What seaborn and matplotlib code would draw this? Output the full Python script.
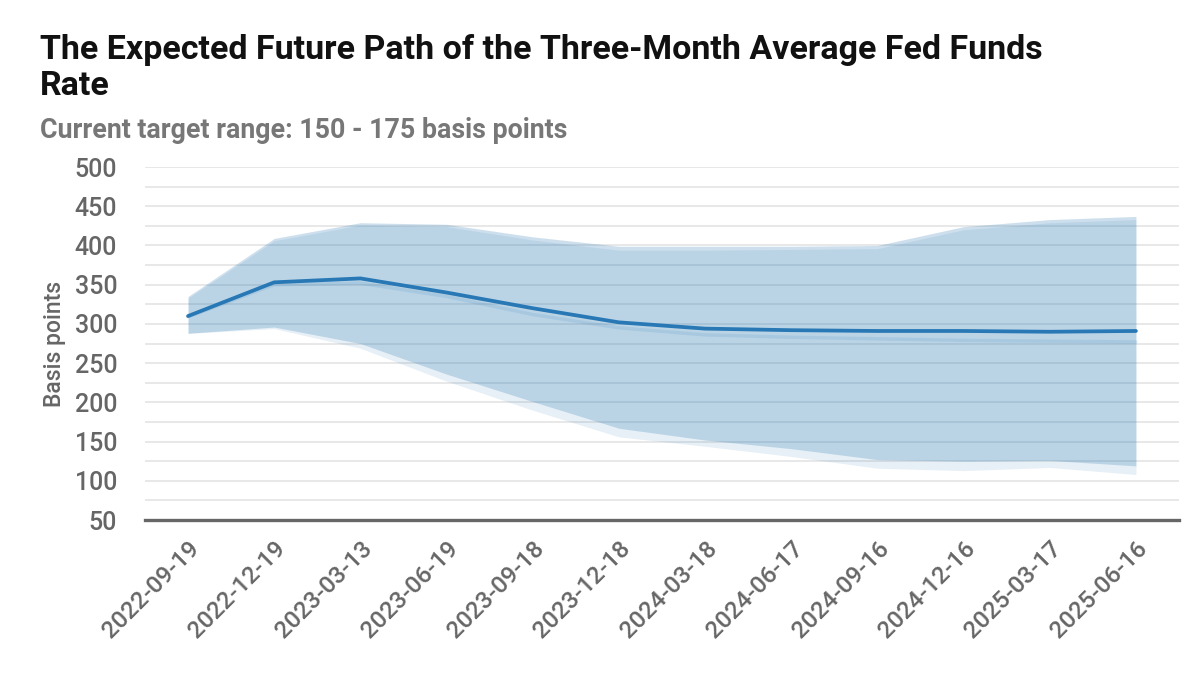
import matplotlib
matplotlib.use("Agg")
import matplotlib.pyplot as plt
import seaborn as sns
import pandas as pd
import numpy as np
from matplotlib.ticker import MultipleLocator

dates = ['2022-09-19', '2022-12-19', '2023-03-13', '2023-06-19', '2023-09-18', '2023-12-18',
         '2024-03-18', '2024-06-17', '2024-09-16', '2024-12-16', '2025-03-17', '2025-06-16']
current = [310, 353, 358, 340, 320, 302, 294, 292, 291, 291, 290, 291]
current_low = [288, 296, 275, 236, 201, 167, 152, 141, 127, 125, 126, 119]
current_high = [335, 409, 429, 427, 411, 399, 399, 399, 400, 424, 433, 437]
previous = [309, 350, 352, 335, 312, 295, 286, 283, 281, 279, 278, 277]
previous_low = [288, 294, 269, 227, 190, 156, 144, 131, 116, 113, 117, 108]
previous_high = [333, 406, 426, 424, 407, 394, 394, 395, 396, 420, 429, 433]

title = "The Expected Future Path of the Three-Month Average Fed Funds\nRate"
subtitle = "Current target range: 150 - 175 basis points"
ylabel = "Basis points"

sns.set_theme(style="white")
plt.rcParams['font.family'] = ['Roboto', 'DejaVu Sans']

blue = "#2878b5"
gray = "#666666"

df = pd.DataFrame({"date": dates, "current": current, "previous": previous})
x = np.arange(len(dates))

fig = plt.figure(figsize=(12, 6.82), dpi=100)
ax = fig.add_axes([0.1208, 0.2375, 0.8617, 0.5176])

# grid
for v in range(75, 501, 25):
    ax.axhline(v, color="#e6e6e6", lw=1.3, zorder=0)

ax.fill_between(x, previous_low, previous_high, color=blue, alpha=0.11, lw=0, zorder=1)
ax.fill_between(x, current_low, current_high, color=blue, alpha=0.23, lw=0, zorder=2)

sns.lineplot(x=x, y=df["previous"], ax=ax, color=blue, alpha=0.12, lw=2.5, zorder=3)
sns.lineplot(x=x, y=df["current"], ax=ax, color=blue, lw=2.7, zorder=4)

ax.set_xlim(-0.5, 11.5)
ax.set_ylim(50, 500)
ax.yaxis.set_major_locator(MultipleLocator(50))
ax.set_xticks(x)
ax.set_xticklabels(dates, rotation=45, ha="right", rotation_mode="anchor")
for s in ["left", "right", "top"]:
    ax.spines[s].set_visible(False)
ax.spines["bottom"].set_color(gray)
ax.spines["bottom"].set_linewidth(2.4)
ax.tick_params(axis="y", length=0, pad=20, labelsize=18, labelcolor=gray)
ax.tick_params(axis="x", length=0, pad=12, labelsize=17.5, labelcolor=gray)
for lab in ax.get_yticklabels() + ax.get_xticklabels():
    lab.set_fontweight("medium")
ax.set_xlabel("")
ax.set_ylabel(ylabel, fontsize=16.5, color=gray, fontweight="medium")
ax.yaxis.set_label_coords(-0.076, 0.5)

fig.text(0.033, 0.95, title, fontsize=24.5, fontweight="bold", color="#111111",
         va="top", ha="left", linespacing=1.17)
fig.text(0.033, 0.798, subtitle, fontsize=19.3, fontweight="bold", color="#777777",
         va="baseline", ha="left")

fig.savefig("out.png", dpi=100)
